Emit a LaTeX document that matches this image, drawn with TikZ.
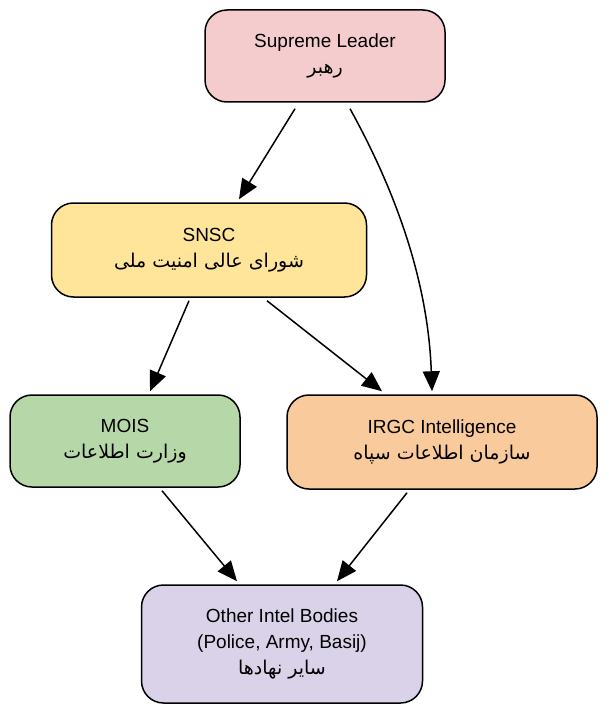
\documentclass[tikz,border=0pt]{standalone}
\usepackage{fontspec}
\setmainfont{Liberation Sans}
\newfontfamily\fa[Script=Arabic]{DejaVu Sans}
\usetikzlibrary{positioning,arrows.meta}
\TeXXeTstate=1
\newcommand{\fatext}[1]{{\fa\beginR #1\endR}}
\tikzset{
  box/.style={draw, line width=1.5pt, rounded corners=22pt, align=center, font=\fontsize{19}{26}\selectfont, inner sep=4pt},
  link/.style={line width=1.5pt, -{Triangle[length=20pt,width=17pt]}}
}
\begin{document}
\begin{tikzpicture}[x=1pt,y=-1pt]
  \useasboundingbox (0,0) rectangle (608,714);
  \node[box, fill={rgb,255:red,244;green,204;blue,206}, minimum width=240pt, minimum height=92pt] (leader) at (325,56) {Supreme Leader\\\fatext{رهبر}};
  \node[box, fill={rgb,255:red,255;green,229;blue,153}, minimum width=315pt, minimum height=94pt] (snsc) at (209,250) {SNSC\\\fatext{شورای عالی امنیت ملی}};
  \node[box, fill={rgb,255:red,182;green,215;blue,168}, minimum width=230pt, minimum height=92pt] (mois) at (125,441) {MOIS\\\fatext{وزارت اطلاعات}};
  \node[box, fill={rgb,255:red,249;green,203;blue,156}, minimum width=310pt, minimum height=94pt] (irgc) at (442,442) {IRGC Intelligence\\\fatext{سازمان اطلاعات سپاه}};
  \node[box, fill={rgb,255:red,217;green,210;blue,233}, minimum width=281pt, minimum height=118pt] (other) at (282,644) {Other Intel Bodies\\(Police, Army, Basij)\\\fatext{سایر نهادها}};

  \draw[link] ([xshift=-30pt,yshift=-6pt]leader.south) -- ([xshift=30pt,yshift=3pt]snsc.north);
  \draw[link] ([xshift=25pt,yshift=-6pt]leader.south) .. controls (395,190) and (428,280) .. ([xshift=-10pt,yshift=3pt]irgc.north);
  \draw[link] ([xshift=-20pt,yshift=-3pt]snsc.south) -- ([xshift=25pt,yshift=3pt]mois.north);
  \draw[link] ([xshift=58pt,yshift=-3pt]snsc.south) -- ([xshift=-60pt,yshift=3pt]irgc.north);
  \draw[link] ([xshift=37pt,yshift=-3pt]mois.south) -- ([xshift=-45pt,yshift=3pt]other.north);
  \draw[link] ([xshift=-35pt,yshift=-3pt]irgc.south) -- ([xshift=55pt,yshift=3pt]other.north);
\end{tikzpicture}
\end{document}
